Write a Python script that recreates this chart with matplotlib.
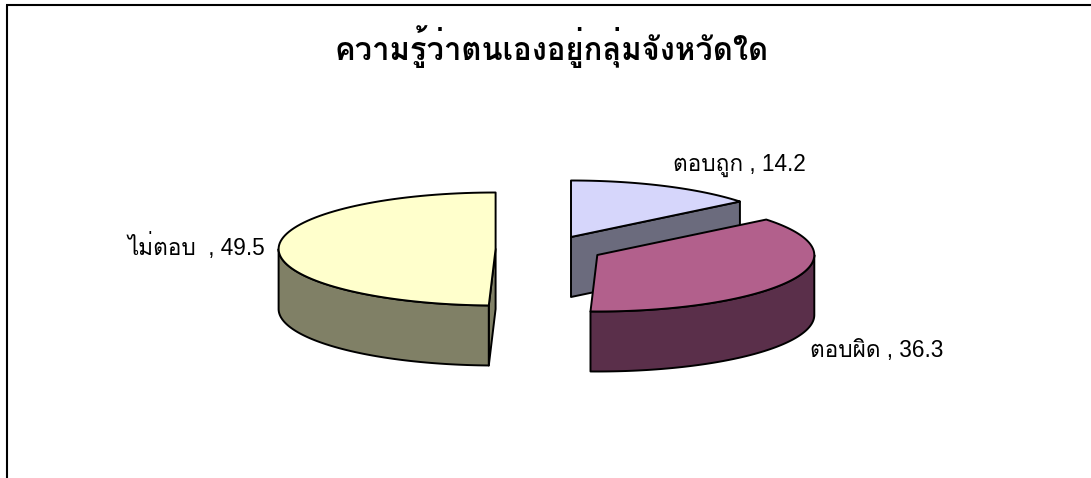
import numpy as np
import matplotlib
matplotlib.use("Agg")
import matplotlib.pyplot as plt
from matplotlib.patches import Polygon

title = "ความรู้ว่าตนเองอยู่กลุ่มจังหวัดใด"
categories = ["ตอบถูก", "ตอบผิด", "ไม่ตอบ "]
values = [14.2, 36.3, 49.5]

plt.rcParams["font.family"] = ["Liberation Sans", "Loma", "DejaVu Sans"]

fig = plt.figure(figsize=(10.91, 4.78), dpi=100)
ax = fig.add_axes([0, 0, 1, 1])
ax.set_xlim(0, 1091)
ax.set_ylim(478, 0)
ax.axis("off")

RX, RY, DEPTH = 217, 56.5, 60
top_colors = ["#D6D6FB", "#B2608C", "#FFFFCC"]
side_colors = ["#6B6B7D", "#5A2F4A", "#808066"]
centers = [(571, 237), (597.3, 255), (495.6, 249)]
label_pos = [(739.5, 165), (877, 350), (196.5, 247)]
LW = 1.4


def arc(c, a0, a1, n=90):
    t = np.radians(np.linspace(a0, a1, n))
    return np.column_stack([c[0] + RX * np.sin(t), c[1] - RY * np.cos(t)])


edges = np.concatenate([[0], np.cumsum(values)]) / sum(values) * 360
style = dict(ec="k", lw=LW, joinstyle="round")
for i in range(len(values)):
    a0, a1 = edges[i], edges[i + 1]
    c = np.array(centers[i])
    drop = np.array([0, DEPTH])
    # visible radial wall: the first slice shows its end wall, the last its start wall
    wall = {0: a1, len(values) - 1: a0}.get(i)
    if wall is not None:
        p = arc(c, wall, wall, 1)[0]
        ax.add_patch(Polygon([c, p, p + drop, c + drop], fc=side_colors[i], zorder=i * 3 + 1, **style))
    # front rim
    lo, hi = max(a0, 90), min(a1, 270)
    if hi > lo:
        rim = arc(c, lo, hi)
        ax.add_patch(Polygon(np.vstack([rim, (rim + drop)[::-1]]), fc=side_colors[i], zorder=i * 3 + 2, **style))
    # top face
    ax.add_patch(Polygon(np.vstack([[c], arc(c, a0, a1)]), fc=top_colors[i], zorder=i * 3 + 3, **style))
    ax.text(*label_pos[i], f"{categories[i]} , {values[i]}", fontsize=16.3, color="k",
            ha="center", va="center", zorder=30)

ax.text(551.5, 47, title, fontsize=22.3, fontweight="bold", color="k", ha="center", va="center", zorder=30)

ax.plot([6, 1091], [5, 5], color="k", lw=1.5, solid_capstyle="butt", zorder=20)
ax.plot([7, 7], [5, 478], color="k", lw=1.5, solid_capstyle="butt", zorder=20)

fig.savefig("out.png", dpi=100)
